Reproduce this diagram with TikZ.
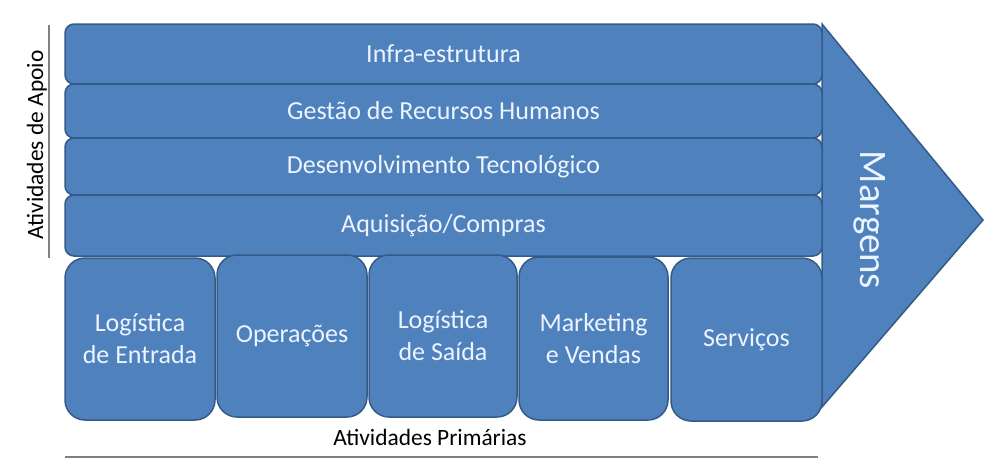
\documentclass[tikz,border=0pt]{standalone}
\usepackage{fontspec}
\setmainfont{Carlito}
\definecolor{vcblue}{RGB}{79,129,189}
\definecolor{vcedge}{RGB}{52,90,136}
\definecolor{vctext}{RGB}{236,244,255}
\definecolor{vcgrey}{RGB}{128,128,128}
\begin{document}
\begin{tikzpicture}[x=1pt,y=-1pt,
  shapebase/.style={draw=vcedge, fill=vcblue, line width=1.5pt, inner sep=0pt, text=vctext, align=center},
  supbar/.style={shapebase, rounded corners=9pt, minimum width=757pt, font=\fontsize{26}{31}\selectfont},
  primbox/.style={shapebase, rounded corners=20pt, font=\fontsize{26}{32}\selectfont},
  sidelabel/.style={text=black, inner sep=0pt, font=\fontsize{23.4}{28}\selectfont},
  sepline/.style={draw=vcgrey, line width=1.4pt}]
\useasboundingbox (0,0) rectangle (992,467);
% margin arrow
\draw[shapebase] (822,24) -- (983,220) -- (822,407) -- cycle;
\node[rotate=-90, anchor=base, text=vctext, inner sep=0pt, font=\fontsize{39}{44}\selectfont] (margens) at (860,220) {Margens};
% support activities
\node[supbar, minimum height=60pt] (infra) at (443.5,54) {Infra-estrutura};
\node[supbar, minimum height=54pt] (rh) at (443.5,111) {Gestão de Recursos Humanos};
\node[supbar, minimum height=57pt] (tec) at (443.5,166.5) {Desenvolvimento Tecnológico};
\node[supbar, minimum height=61pt] (aq) at (443.5,225.5) {Aquisição/Compras};
% primary activities
\node[primbox, minimum width=150pt, minimum height=162pt] (le) at (140,339) {Logística\\de Entrada};
\node[primbox, minimum width=150pt, minimum height=162pt] (op) at (292,336) {Operações};
\node[primbox, minimum width=148pt, minimum height=162pt] (ls) at (443,336) {Logística\\de Saída};
\node[primbox, minimum width=149pt, minimum height=163pt] (mv) at (593.5,338.5) {Marketing\\e Vendas};
\node[primbox, minimum width=151pt, minimum height=163pt] (sv) at (746.5,339.5) {Serviços};
% side labels
\coordinate (apoioTop) at (49,25);
\coordinate (apoioBot) at (49,258);
\draw[sepline] (apoioTop) -- (apoioBot);
\node[sidelabel, rotate=90, anchor=base] (apoio) at (43,145) {Atividades de Apoio};
\coordinate (primL) at (65,457);
\coordinate (primR) at (818,457);
\draw[sepline] (primL) -- (primR);
\node[sidelabel, anchor=base] (prim) at (430,445) {Atividades Primárias};
\end{tikzpicture}
\end{document}
